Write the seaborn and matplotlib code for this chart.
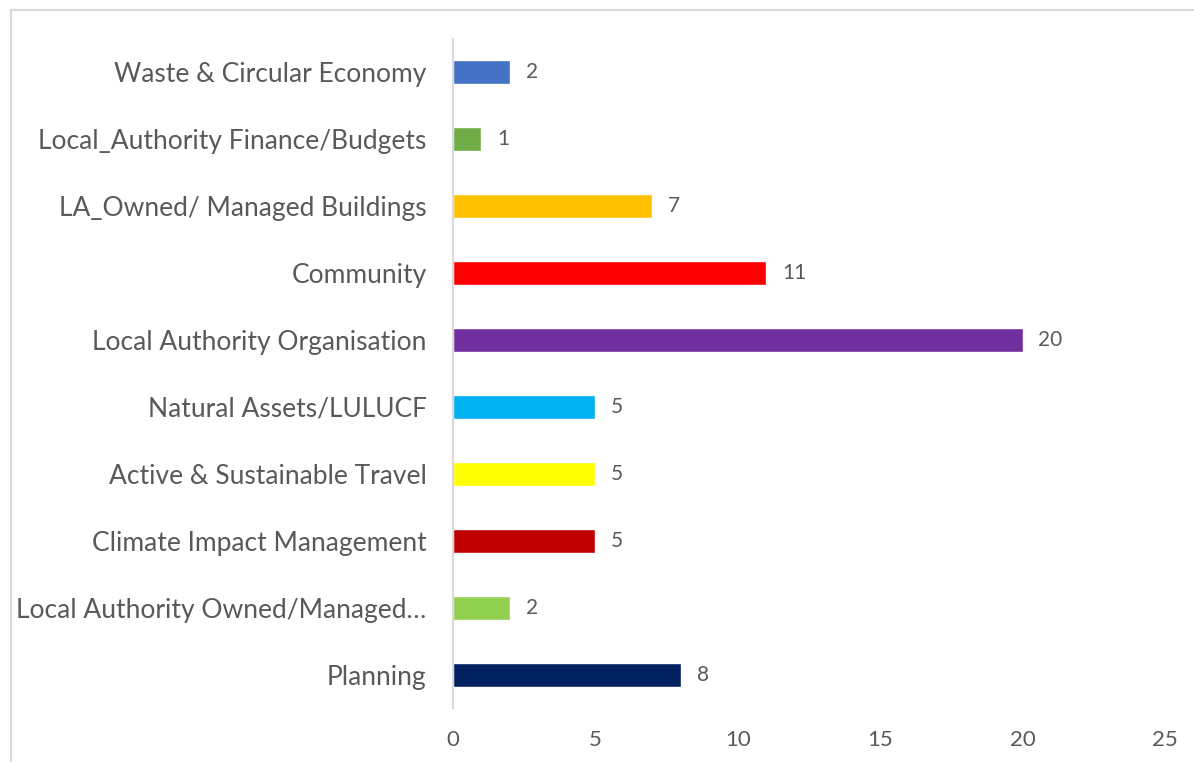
import pandas as pd
import matplotlib.pyplot as plt
import seaborn as sns
from matplotlib.lines import Line2D

# data
categories = [
    'Waste & Circular Economy',
    'Local_Authority Finance/Budgets',
    'LA_Owned/ Managed Buildings',
    'Community',
    'Local Authority Organisation',
    'Natural Assets/LULUCF',
    'Active & Sustainable Travel',
    'Climate Impact Management',
    'Local Authority Owned/Managed…',
    'Planning',
]
counts = [2, 1, 7, 11, 20, 5, 5, 5, 2, 8]
bar_colors = ['#4472C4', '#70AD47', '#FFC000', '#FF0000', '#7030A0',
              '#00B0F0', '#FFFF00', '#C00000', '#92D050', '#002060']
x_ticks = [0, 5, 10, 15, 20, 25]

df = pd.DataFrame({'category': categories, 'count': counts})

sns.set_style('white')
plt.rcParams['font.family'] = ['Lato', 'DejaVu Sans']
text_color = '#595959'

W, H = 1194, 762
fig = plt.figure(figsize=(W / 100, H / 100), dpi=100)
ax = fig.add_axes([453 / W, 1 - 708 / H, (1165 - 453) / W, (708 - 39) / H])

sns.barplot(data=df, y='category', x='count', hue='category', palette=bar_colors,
            legend=False, width=0.36, saturation=1, ax=ax, order=categories)

for i, v in enumerate(counts):
    ax.text(v + 0.55, i, str(v), va='center', ha='left', fontsize=15, color=text_color)

ax.set_xlim(0, 25)
ax.set_ylim(len(categories) - 0.5, -0.5)
ax.set_xticks(x_ticks)
ax.set_xlabel('')
ax.set_ylabel('')
ax.tick_params(axis='x', length=0, labelsize=16, labelcolor=text_color, pad=16)
ax.tick_params(axis='y', length=0, labelsize=19, labelcolor=text_color, pad=19)
for s in ['top', 'right', 'bottom']:
    ax.spines[s].set_visible(False)
ax.spines['left'].set_color('#D9D9D9')
ax.spines['left'].set_linewidth(1.5)
ax.grid(False)

# chart area border (top and left visible)
fig.add_artist(Line2D([11 / W, 1], [1 - 10 / H, 1 - 10 / H], color='#D9D9D9', lw=1.5,
                      transform=fig.transFigure))
fig.add_artist(Line2D([11 / W, 11 / W], [0, 1 - 10 / H], color='#D9D9D9', lw=1.5,
                      transform=fig.transFigure))

fig.savefig('out.png', dpi=100)
